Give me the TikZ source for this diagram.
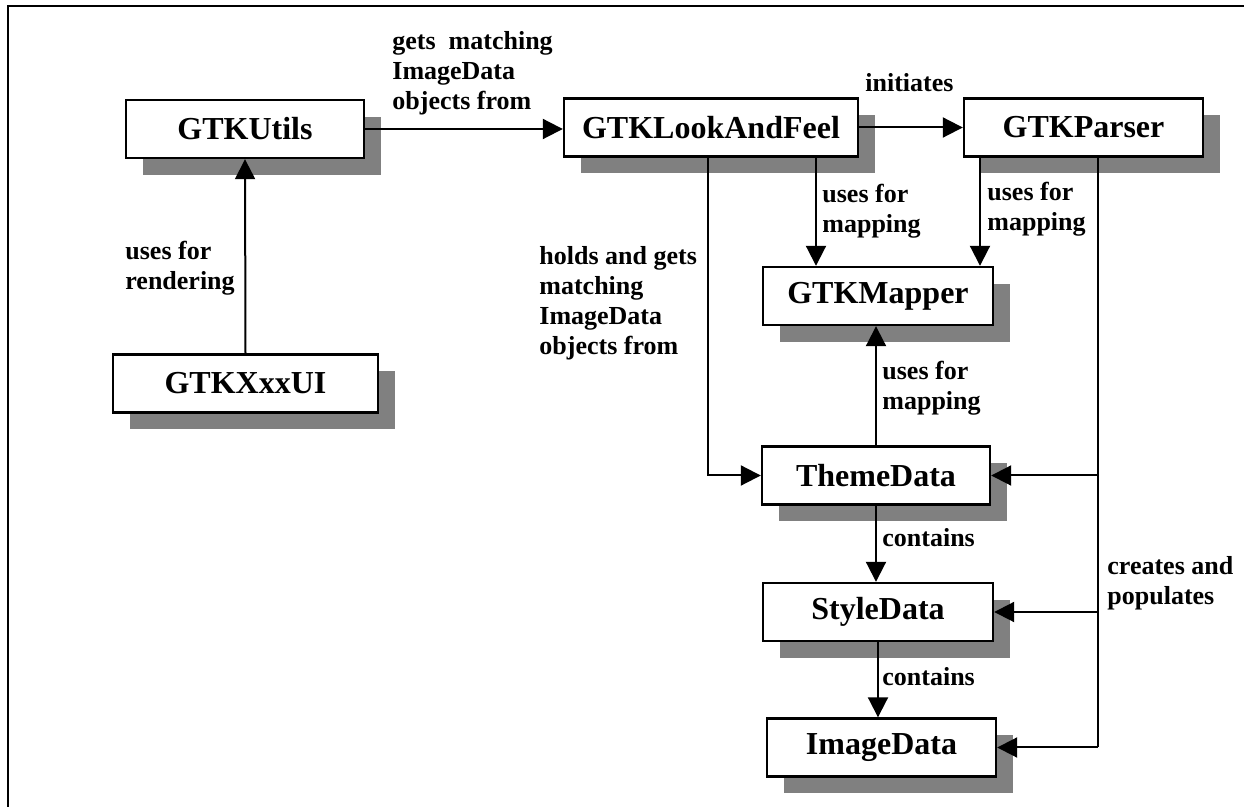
\documentclass[tikz,border=0pt]{standalone}
\usepackage{fontspec}
\setmainfont{Liberation Serif}
\usetikzlibrary{arrows.meta, shadows}

\begin{document}
\begin{tikzpicture}[x=0.5pt,y=-0.5pt,
  cls/.style={draw,line width=1.2pt,fill=white,inner sep=0pt,minimum height=29pt,
    font=\fontsize{16}{19}\selectfont\bfseries,
    drop shadow={shadow xshift=8.5pt,shadow yshift=-8.5pt,fill=black!50,opacity=1}},
  conn/.style={line width=1pt,-{Triangle[length=10pt,width=10pt]}},
  lbl/.style={anchor=west,align=left,inner sep=0pt,font=\fontsize{13}{15}\selectfont\bfseries}]
  \useasboundingbox (0,0) rectangle (1244,807);
  \draw[line width=1pt] (8,807) -- (8,6) -- (1244,6);
  \path (245,129) node[cls,minimum width=119pt] (utils) {GTKUtils}
  (245.5,383.5) node[cls,minimum width=132.5pt] (xxxui) {GTKXxxUI}
  (711,127.5) node[cls,minimum width=147pt] (laf) {GTKLookAndFeel}
  (1083.5,127.5) node[cls,minimum width=119.5pt] (parser) {GTKParser}
  (878,296) node[cls,minimum width=115pt] (mapper) {GTKMapper}
  (876,475.5) node[cls,minimum width=114pt] (theme) {ThemeData}
  (878,612) node[cls,minimum width=115pt] (style) {StyleData}
  (881.5,747.5) node[cls,minimum width=114.5pt] (imgdata) {ImageData};
  \coordinate (busx) at (1098,0);
  \draw[conn] (utils.east) -- (utils.east -| laf.west);
  \draw[conn] (laf.east) -- (laf.east -| parser.west);
  \draw[conn] (xxxui.north) -- (utils.south);
  \draw[conn] ([xshift=52.5pt]laf.south) -- ([xshift=52.5pt]laf.south |- mapper.north);
  \draw[conn] ([xshift=-51.75pt]parser.south) -- ([xshift=-51.75pt]parser.south |- mapper.north);
  \draw[conn] ([xshift=-1.5pt]laf.south) |- (theme.west);
  \draw[conn] (theme.north) -- (theme.north |- mapper.south);
  \draw[conn] (theme.south) -- (theme.south |- style.north);
  \draw[conn] (style.south) -- (style.south |- imgdata.north);
  \draw[line width=1pt] (parser.south -| busx) -- (imgdata.east -| busx);
  \draw[conn] (theme.east -| busx) -- (theme.east);
  \draw[conn] (style.east -| busx) -- (style.east);
  \draw[conn] (imgdata.east -| busx) -- (imgdata.east);
  \node[lbl] (getsl) at (392,73) {gets\ \ matching\\ImageData\\objects from};
  \node[lbl] (initl) at (865,83) {initiates};
  \node[lbl] (rendl) at (125,268) {uses for\\rendering};
  \node[lbl] (mapl1) at (822,211) {uses for\\mapping};
  \node[lbl] (mapl2) at (987,209) {uses for\\mapping};
  \node[lbl] (holdl) at (539,303) {holds and gets\\matching\\ImageData\\objects from};
  \node[lbl] (mapl3) at (882,388) {uses for\\mapping};
  \node[lbl] (contl1) at (882,538) {contains};
  \node[lbl] (contl2) at (882,677) {contains};
  \node[lbl] (creal) at (1107,583) {creates and\\populates};
\end{tikzpicture}
\end{document}
